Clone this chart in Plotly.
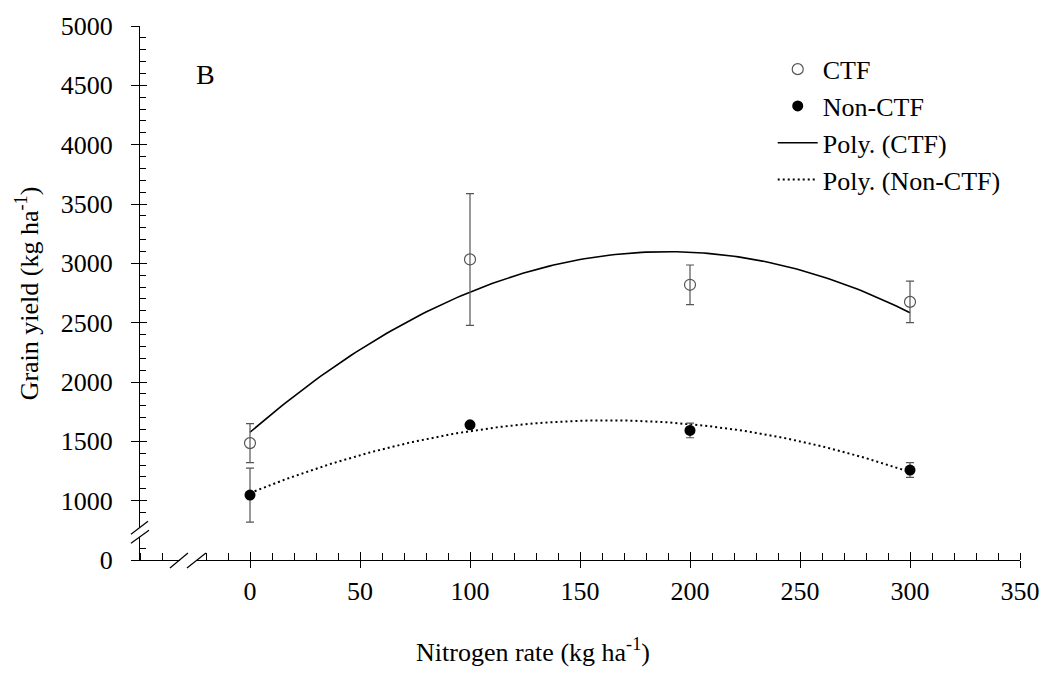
import numpy as np
import plotly.graph_objects as go

# ---------------- data ----------------
N_RATE = [0, 100, 200, 300]
CTF_MEAN = [1485, 3033, 2819, 2675]
CTF_ERR = [165, 555, 167, 175]
NONCTF_MEAN = [1047, 1639, 1592, 1258]
NONCTF_ERR = [228, 20, 62, 62]

X_TICKS = [0, 50, 100, 150, 200, 250, 300, 350]
Y_TICK_VALS = [500, 1000, 1500, 2000, 2500, 3000, 3500, 4000, 4500, 5000]
Y_TICK_TEXT = ["0", "1000", "1500", "2000", "2500", "3000", "3500", "4000", "4500", "5000"]

X_RANGE = [-50, 350]
Y_RANGE = [500, 5000]

FONT = "Liberation Serif"
FS = 26

# polynomial (2nd order) trend lines, as in the original spreadsheet
xs = np.linspace(0, 300, 151)
ctf_fit = np.polyval(np.polyfit(N_RATE, CTF_MEAN, 2), xs)
non_fit = np.polyval(np.polyfit(N_RATE, NONCTF_MEAN, 2), xs)

fig = go.Figure()

fig.add_trace(go.Scatter(
    x=xs, y=ctf_fit, mode="lines", name="Poly. (CTF)",
    line=dict(color="black", width=1.6), legendgroup="c", legendrank=3,
))
fig.add_trace(go.Scatter(
    x=xs, y=non_fit, mode="lines", name="Poly. (Non-CTF)",
    line=dict(color="black", width=2, dash="2px,3px"), legendgroup="d", legendrank=4,
))
fig.add_trace(go.Scatter(
    x=N_RATE, y=CTF_MEAN, mode="markers", name="CTF",
    marker=dict(symbol="circle-open", size=11, color="#555555", line=dict(width=1.2, color="#555555")),
    error_y=dict(type="data", array=CTF_ERR, color="#555555", thickness=1.2, width=4),
    legendgroup="a", legendrank=1,
))
fig.add_trace(go.Scatter(
    x=N_RATE, y=NONCTF_MEAN, mode="markers", name="Non-CTF",
    marker=dict(symbol="circle", size=11, color="black"),
    error_y=dict(type="data", array=NONCTF_ERR, color="#555555", thickness=1.2, width=4),
    legendgroup="b", legendrank=2,
))
# dummy trace so the overlay axes (for crossing major ticks) are drawn
fig.add_trace(go.Scatter(x=[None], y=[None], xaxis="x2", yaxis="y2", showlegend=False, hoverinfo="skip"))

tickfont = dict(family=FONT, size=FS, color="black")

fig.update_layout(
    width=1056, height=673,
    margin=dict(l=140, r=36, t=20, b=113),
    paper_bgcolor="white", plot_bgcolor="white",
    font=dict(family=FONT, size=FS, color="black"),
    showlegend=True,
    legend=dict(
        x=0.719, y=0.963, xanchor="left", yanchor="top",
        bgcolor="rgba(0,0,0,0)", borderwidth=0,
        font=dict(family=FONT, size=FS, color="black"),
        itemwidth=40, tracegroupgap=0, traceorder="grouped",
    ),
    xaxis=dict(
        range=X_RANGE, tickmode="array", tickvals=X_TICKS,
        ticks="outside", ticklen=7, tickwidth=1, tickcolor="black",
        showline=True, linecolor="black", linewidth=1, showgrid=False, zeroline=False,
        tickfont=tickfont, ticklabelstandoff=1,
        minor=dict(ticks="inside", ticklen=7, tickwidth=1, tickcolor="black", dtick=10, tick0=-50, showgrid=False),
    ),
    yaxis=dict(
        range=Y_RANGE, tickmode="array", tickvals=Y_TICK_VALS, ticktext=Y_TICK_TEXT,
        ticks="outside", ticklen=8, tickwidth=1, tickcolor="black",
        showline=True, linecolor="black", linewidth=1, showgrid=False, zeroline=False,
        tickfont=tickfont, ticklabelstandoff=13,
        minor=dict(ticks="inside", ticklen=6, tickwidth=1, tickcolor="black",
                   tickvals=[600, 900] + [v for v in range(1100, 5000, 100) if v % 500 != 0], showgrid=False),
    ),
    xaxis2=dict(
        range=X_RANGE, overlaying="x", anchor="y", tickmode="array", tickvals=X_TICKS,
        ticks="inside", ticklen=8, tickwidth=1, tickcolor="black",
        showticklabels=False, showline=False, showgrid=False, zeroline=False,
    ),
    yaxis2=dict(
        range=Y_RANGE, overlaying="y", anchor="x", side="left", tickmode="array", tickvals=Y_TICK_VALS,
        ticks="inside", ticklen=7, tickwidth=1, tickcolor="black",
        showticklabels=False, showline=False, showgrid=False, zeroline=False,
    ),
)

# axis titles and panel letter
fig.add_annotation(text="Grain yield (kg ha<sup>-1</sup>)", xref="paper", yref="paper",
                   x=-0.128, y=0.5, xanchor="center", yanchor="middle", textangle=-90,
                   showarrow=False, font=dict(family=FONT, size=FS, color="black"))
fig.add_annotation(text="Nitrogen rate (kg ha<sup>-1</sup>)", xref="paper", yref="paper",
                   x=0.447, y=-0.17, xanchor="center", yanchor="middle",
                   showarrow=False, font=dict(family=FONT, size=FS, color="black"))
fig.add_annotation(text="B", xref="paper", yref="paper",
                   x=0.074, y=0.91, xanchor="center", yanchor="middle",
                   showarrow=False, font=dict(family=FONT, size=28, color="black"))

# axis break marks
def xp(v):
    return (v - X_RANGE[0]) / (X_RANGE[1] - X_RANGE[0])

def yp(v):
    return (v - Y_RANGE[0]) / (Y_RANGE[1] - Y_RANGE[0])

def pix_shape(kind, ax, ay, x0, y0, x1, y1, **kw):
    return dict(type=kind, xref="paper", yref="paper", xsizemode="pixel", ysizemode="pixel",
                xanchor=ax, yanchor=ay, x0=x0, y0=y0, x1=x1, y1=y1, layer="above", **kw)

shapes = []
# x-axis break around x = -28
bx = xp(-28.2)
shapes.append(pix_shape("rect", bx, 0, -8, -2, 9, 8, fillcolor="white", line=dict(width=0)))
shapes.append(pix_shape("line", bx, 0, -18, -8, 0, 7, line=dict(color="black", width=1.2)))
shapes.append(pix_shape("line", bx, 0, -1, -8, 18, 7, line=dict(color="black", width=1.2)))
# y-axis break around y = 733 (below the 1000 tick)
by = yp(733)
shapes.append(pix_shape("rect", 0, by, -2, -4.5, 7, 5, fillcolor="white", line=dict(width=0)))
shapes.append(pix_shape("line", 0, by, -9, -2, 8, 11, line=dict(color="black", width=1.2)))
shapes.append(pix_shape("line", 0, by, -9, -11, 9, 2, line=dict(color="black", width=1.2)))
fig.update_layout(shapes=shapes)

fig.write_html("out.html")
